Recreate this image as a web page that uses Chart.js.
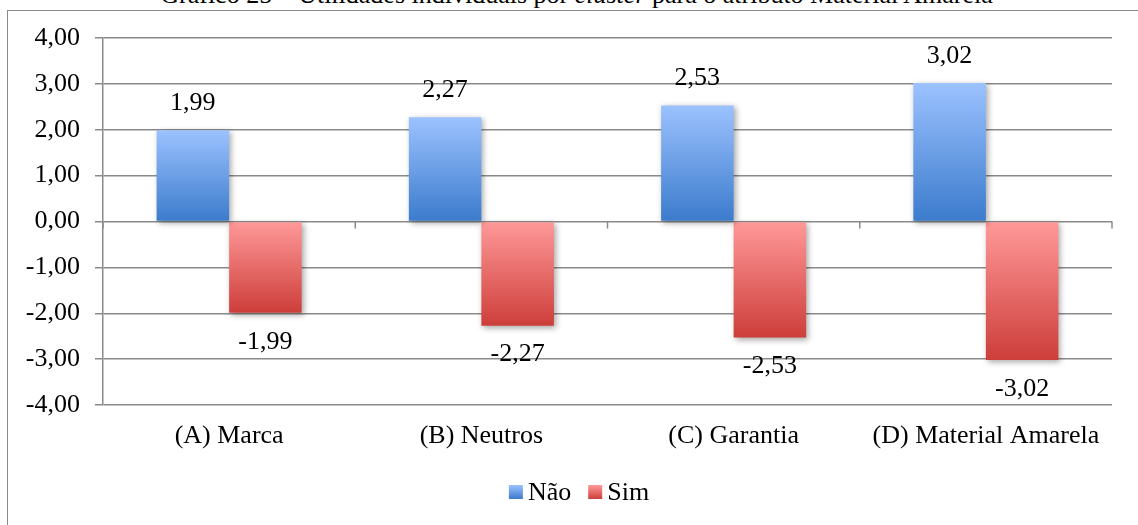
<!DOCTYPE html>
<html>
<head>
<meta charset="utf-8">
<script src="https://cdn.jsdelivr.net/npm/chart.js@4"></script>
<style>
  body { margin: 0; background: #fff; overflow: hidden; }
  #wrap { position: relative; width: 1138px; height: 525px; }
  #frame { position: absolute; left: 7px; top: 10px; width: 1200px; height: 600px; border: 1.5px solid #8a8a8a; box-sizing: border-box; }
  #title { position: absolute; left: 0; width: 1153px; top: -18px; text-align: center; font: 26px "Liberation Serif", "Times New Roman", serif; line-height: 26px; color: #000; white-space: nowrap; }
  #chart { position: absolute; left: 0; top: 0; }
</style>
</head>
<body>
<div id="wrap">
  <div id="title">Gráfico 25 – Utilidades individuais por <i>cluster</i> para o atributo Material Amarela</div>
  <div id="frame"></div>
  <canvas id="chart" width="1138" height="525"></canvas>
</div>
<script>
// categories and series values
const categories = ['(A) Marca', '(B) Neutros', '(C) Garantia', '(D) Material Amarela'];
const naoValues = [1.99, 2.27, 2.53, 3.02];
const simValues = [-1.99, -2.27, -2.53, -3.02];
const seriesNames = ['Não', 'Sim'];

const fmt = v => v.toFixed(2).replace('.', ',');
const serif = '"Liberation Serif", "Times New Roman", serif';
const fontSize = 26;
const naoColors = ['#9cc2ff', '#3b7bcc'];
const simColors = ['#ff9999', '#cd3e3a'];

// vertical gradient between the zero line and the end of each bar
function barGradient(light, dark) {
    return (context) => {
        const chart = context.chart;
        if (context.type !== 'data' || !chart.chartArea) return dark;
        const y = chart.scales.y;
        const p0 = y.getPixelForValue(0);
        const p1 = y.getPixelForValue(context.raw);
        const g = chart.ctx.createLinearGradient(0, Math.min(p0, p1), 0, Math.max(p0, p1));
        g.addColorStop(0, light);
        g.addColorStop(1, dark);
        return g;
    };
}

// soft shadow under the bars
const barShadow = {
    id: 'barShadow',
    beforeDatasetsDraw(chart) {
        const ctx = chart.ctx;
        ctx.save();
        ctx.shadowColor = 'rgba(0,0,0,0.35)';
        ctx.shadowBlur = 6;
        ctx.shadowOffsetX = 2;
        ctx.shadowOffsetY = 2;
    },
    afterDatasetsDraw(chart) {
        chart.ctx.restore();
    }
};

// value labels + small tick marks on the zero line
const valueLabels = {
    id: 'valueLabels',
    afterDatasetsDraw(chart) {
        const ctx = chart.ctx;
        const y = chart.scales.y;
        const area = chart.chartArea;
        const zero = y.getPixelForValue(0);
        ctx.save();
        ctx.strokeStyle = '#8a8a8a';
        ctx.lineWidth = 1.5;
        for (let i = 0; i <= categories.length; i++) {
            const px = area.left + i * (area.width / categories.length);
            ctx.beginPath();
            ctx.moveTo(px, zero);
            ctx.lineTo(px, zero + 7);
            ctx.stroke();
        }
        ctx.fillStyle = '#000';
        ctx.font = fontSize + 'px ' + serif;
        ctx.textAlign = 'center';
        ctx.textBaseline = 'middle';
        chart.data.datasets.forEach((ds, di) => {
            const meta = chart.getDatasetMeta(di);
            meta.data.forEach((bar, i) => {
                const v = ds.data[i];
                const ty = v >= 0 ? bar.y - 27 : bar.y + 29;
                ctx.fillText(fmt(v), bar.x, ty);
            });
        });
        ctx.restore();
    }
};

// legend drawn by hand, Excel style (small gradient squares, tight gap)
const bottomLegend = {
    id: 'bottomLegend',
    afterDraw(chart) {
        const ctx = chart.ctx;
        const box = 14, gap = 5, itemGap = 17;
        const centerX = 579, centerY = 492;
        const colors = [naoColors, simColors];
        ctx.save();
        ctx.font = fontSize + 'px ' + serif;
        ctx.textBaseline = 'middle';
        ctx.textAlign = 'left';
        const widths = seriesNames.map(n => ctx.measureText(n).width);
        const total = widths.reduce((s, w) => s + box + gap + w, 0) + itemGap * (seriesNames.length - 1);
        let x = centerX - total / 2;
        seriesNames.forEach((name, i) => {
            const g = ctx.createLinearGradient(0, centerY - box / 2, 0, centerY + box / 2);
            g.addColorStop(0, colors[i][0]);
            g.addColorStop(1, colors[i][1]);
            ctx.fillStyle = g;
            ctx.fillRect(x, centerY - box / 2, box, box);
            ctx.fillStyle = '#000';
            ctx.fillText(name, x + box + gap, centerY + 1);
            x += box + gap + widths[i] + itemGap;
        });
        ctx.restore();
    }
};

new Chart(document.getElementById('chart'), {
    type: 'bar',
    data: {
        labels: categories,
        datasets: [{
            label: seriesNames[0],
            data: naoValues,
            backgroundColor: barGradient(naoColors[0], naoColors[1]),
            categoryPercentage: 0.575,
            barPercentage: 1.0
        }, {
            label: seriesNames[1],
            data: simValues,
            backgroundColor: barGradient(simColors[0], simColors[1]),
            categoryPercentage: 0.575,
            barPercentage: 1.0
        }]
    },
    options: {
        responsive: false,
        animation: false,
        layout: { padding: { top: 38, right: 26, left: 0, bottom: 58 } },
        plugins: {
            title: { display: false },
            tooltip: { enabled: false },
            legend: { display: false }
        },
        scales: {
            y: {
                min: -4,
                max: 4,
                ticks: {
                    stepSize: 1,
                    color: '#000',
                    font: { family: serif, size: fontSize },
                    padding: 15,
                    callback: v => fmt(v)
                },
                grid: { color: '#8a8a8a', lineWidth: 1.5, tickLength: 8 },
                border: { color: '#8a8a8a', width: 1.5 },
                afterFit(scale) { scale.width = 103; }
            },
            x: {
                ticks: {
                    color: '#000',
                    font: { family: serif, size: fontSize },
                    padding: 8
                },
                grid: { display: false },
                border: { display: false },
                afterFit(scale) { scale.height = 62; }
            }
        }
    },
    plugins: [barShadow, valueLabels, bottomLegend]
});
</script>
</body>
</html>
